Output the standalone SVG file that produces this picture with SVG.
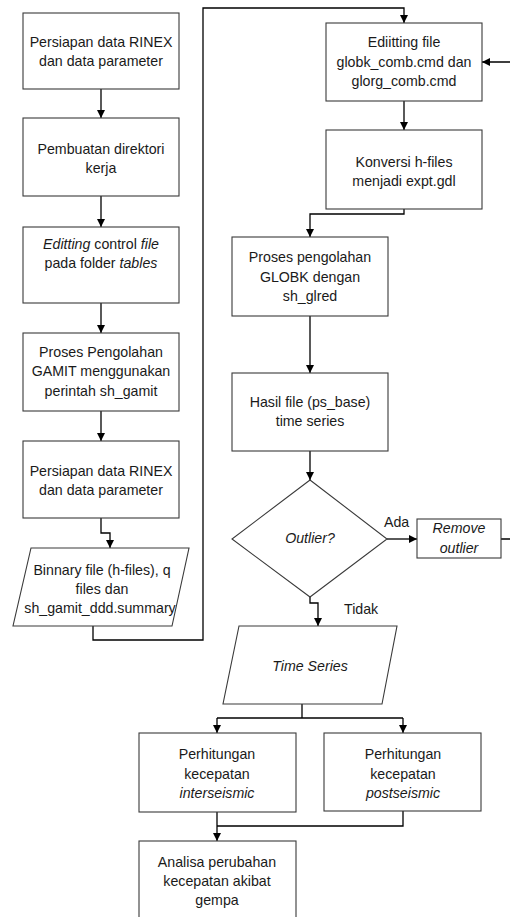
<svg xmlns="http://www.w3.org/2000/svg" width="510" height="917" viewBox="0 0 510 917">
<defs>
<style>
.b{fill:#fff;stroke:#3a3a3a;stroke-width:1.1}
.t{font-family:"Liberation Sans",Arial,sans-serif;font-size:14.2px;fill:#1a1a1a;text-anchor:middle}
.i{font-style:italic}
.c{fill:none;stroke:#000;stroke-width:1.3}
.l{font-family:"Liberation Sans",Arial,sans-serif;font-size:14.2px;fill:#1a1a1a}
</style>
<marker id="a" viewBox="0 0 10 10" refX="10" refY="5" markerWidth="8" markerHeight="8" markerUnits="userSpaceOnUse" orient="auto">
<path d="M0,0 L10,5 L0,10 Z" fill="#000"/>
</marker>
</defs>
<g id="connectors">
<path class="c" d="M101,89 V118" marker-end="url(#a)"/>
<path class="c" d="M101,196 V227" marker-end="url(#a)"/>
<path class="c" d="M101,303 V333" marker-end="url(#a)"/>
<path class="c" d="M101,411 V441" marker-end="url(#a)"/>
<path class="c" d="M101,518 V533 H110 V548" marker-end="url(#a)"/>
<path class="c" d="M93,626 V640 H203 V8 H404 V23" marker-end="url(#a)"/>
<path class="c" d="M404,101 V130" marker-end="url(#a)"/>
<path class="c" d="M404,209 V214 H310 V237" marker-end="url(#a)"/>
<path class="c" d="M310,316 V373" marker-end="url(#a)"/>
<path class="c" d="M310,451 V480" marker-end="url(#a)"/>
<path class="c" d="M387,539 H417" marker-end="url(#a)"/>
<path class="c" d="M501,539 H516 V62 H482" marker-end="url(#a)"/>
<path class="c" d="M310,597 V603 H318 V626" marker-end="url(#a)"/>
<path class="c" d="M302,704 V718"/>
<path class="c" d="M217,718 H403"/>
<path class="c" d="M217,718 V733" marker-end="url(#a)"/>
<path class="c" d="M403,718 V733" marker-end="url(#a)"/>
<path class="c" d="M403,811 V826 H217"/>
<path class="c" d="M217,812 V841" marker-end="url(#a)"/>
<text class="l" x="384" y="527">Ada</text>
<text class="l" x="344" y="614">Tidak</text>
</g>
<g id="n1"><rect class="b" x="23" y="13" width="156" height="76"/>
<text class="t" x="101" y="47">Persiapan data RINEX</text><text class="t" x="101" y="66">dan data parameter</text></g>
<g id="n2"><rect class="b" x="23" y="118" width="156" height="78"/>
<text class="t" x="101" y="154">Pembuatan direktori</text><text class="t" x="101" y="173">kerja</text></g>
<g id="n3"><rect class="b" x="23" y="227" width="156" height="76"/>
<text class="t" x="101" y="249"><tspan class="i">Editting</tspan> control <tspan class="i">file</tspan></text><text class="t" x="101" y="268">pada folder <tspan class="i">tables</tspan></text></g>
<g id="n4"><rect class="b" x="23" y="333" width="156" height="78"/>
<text class="t" x="101" y="357">Proses Pengolahan</text><text class="t" x="101" y="376">GAMIT menggunakan</text><text class="t" x="101" y="396">perintah sh_gamit</text></g>
<g id="n5"><rect class="b" x="23" y="441" width="156" height="77"/>
<text class="t" x="101" y="476">Persiapan data RINEX</text><text class="t" x="101" y="495">dan data parameter</text></g>
<g id="n6"><polygon class="b" points="31,548 189,548 172,626 13,626"/>
<text class="t" x="102" y="575">Binnary file (h-files), q</text><text class="t" x="102" y="594">files dan</text><text class="t" x="100" y="613">sh_gamit_ddd.summary</text></g>
<g id="n7"><rect class="b" x="326" y="23" width="156" height="78"/>
<text class="t" x="404" y="47">Ediitting file</text><text class="t" x="404" y="67">globk_comb.cmd dan</text><text class="t" x="404" y="86">glorg_comb.cmd</text></g>
<g id="n8"><rect class="b" x="326" y="130" width="156" height="79"/>
<text class="t" x="404" y="167">Konversi h-files</text><text class="t" x="404" y="186">menjadi expt.gdl</text></g>
<g id="n9"><rect class="b" x="232" y="237" width="156" height="79"/>
<text class="t" x="310" y="262">Proses pengolahan</text><text class="t" x="310" y="282">GLOBK dengan</text><text class="t" x="310" y="301">sh_glred</text></g>
<g id="n10"><rect class="b" x="232" y="373" width="156" height="78"/>
<text class="t" x="310" y="407">Hasil file (ps_base)</text><text class="t" x="310" y="426">time series</text></g>
<g id="n11"><polygon class="b" points="310,480 387,539 310,597 232,539"/>
<text class="t i" x="310" y="543">Outlier?</text></g>
<g id="n12"><rect class="b" x="417" y="519" width="84" height="39"/>
<text class="t i" x="459" y="533">Remove</text><text class="t i" x="459" y="553">outlier</text></g>
<g id="n13"><polygon class="b" points="239,626 397,626 382,704 223,704"/>
<text class="t i" x="310" y="671">Time Series</text></g>
<g id="n14"><rect class="b" x="139" y="733" width="157" height="79"/>
<text class="t" x="217" y="759">Perhitungan</text><text class="t" x="217" y="779">kecepatan</text><text class="t i" x="217" y="798">interseismic</text></g>
<g id="n15"><rect class="b" x="324" y="733" width="157" height="78"/>
<text class="t" x="403" y="759">Perhitungan</text><text class="t" x="403" y="779">kecepatan</text><text class="t i" x="403" y="798">postseismic</text></g>
<g id="n16"><rect class="b" x="139" y="841" width="157" height="82"/>
<text class="t" x="217" y="867">Analisa perubahan</text><text class="t" x="217" y="886">kecepatan akibat</text><text class="t" x="217" y="905">gempa</text></g>
</svg>
